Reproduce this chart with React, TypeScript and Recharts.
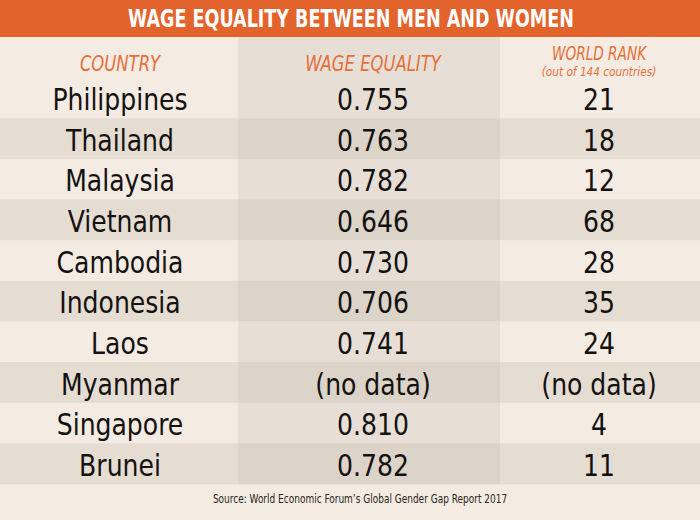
import React from 'react';
import { BarChart, Bar, XAxis, YAxis, Cell, LabelList } from 'recharts';

const countries = ['Philippines', 'Thailand', 'Malaysia', 'Vietnam', 'Cambodia', 'Indonesia', 'Laos', 'Myanmar', 'Singapore', 'Brunei'];
const wageEquality: (number | null)[] = [0.755, 0.763, 0.782, 0.646, 0.73, 0.706, 0.741, null, 0.81, 0.782];
const worldRank: (number | null)[] = [21, 18, 12, 68, 28, 35, 24, null, 4, 11];
const columnHeaders = ['COUNTRY', 'WAGE EQUALITY', 'WORLD RANK'];
const rankSubHeader = '(out of 144 countries)';
const titleText = 'WAGE EQUALITY BETWEEN MEN AND WOMEN';
const sourceText = 'Source: World Economic Forum\u2019s Global Gender Gap Report 2017';
const noDataText = '(no data)';

// layout (not data)
const W = 700;
const H = 520;
const COL_SPANS = [238, 262, 200];
const COL_DX = [1, 4, -1];
const FONT = '"Liberation Sans Narrow", "DejaVu Sans Condensed", sans-serif';
const ORANGE = '#E2632C';
const HEAD_ORANGE = '#E56F3A';
const PAPER = '#F4EBE2';

const rows = [
  { key: 'header', c1: COL_SPANS[0], c2: COL_SPANS[1], c3: COL_SPANS[2], t1: columnHeaders[0], t2: columnHeaders[1], t3: columnHeaders[2], idx: -1 },
  ...countries.map((c, i) => ({
    key: c,
    c1: COL_SPANS[0],
    c2: COL_SPANS[1],
    c3: COL_SPANS[2],
    t1: c,
    t2: wageEquality[i] == null ? noDataText : (wageEquality[i] as number).toFixed(3),
    t3: worldRank[i] == null ? noDataText : String(worldRank[i]),
    idx: i,
  })),
];

const fillFor = (idx: number, col: number) => {
  const dark = idx >= 0 && idx % 2 === 1;
  if (col === 1) return dark ? '#DCD3C9' : '#E7DFD6';
  return dark ? '#E5DCD2' : PAPER;
};

const Narrow = ({ x, y, sx, children, ...rest }: any) => (
  <text transform={`translate(${x},${y}) scale(${sx},1)`} x={0} y={0} textAnchor="middle" fontFamily={FONT} {...rest}>
    {children}
  </text>
);

const makeRenderer = (col: number) => (props: any) => {
  const vb = props.viewBox || props;
  const x = Number(vb.x);
  const y = Number(vb.y);
  const w = Number(vb.width);
  const h = Number(vb.height);
  const value = String(props.value);
  const cx = x + w / 2 + COL_DX[col];
  const cy = y + h / 2;
  if (columnHeaders.includes(value)) {
    if (value === columnHeaders[2]) {
      return (
        <g>
          <Narrow x={cx} y={cy + 2} sx={0.8} fill={HEAD_ORANGE} fontStyle="italic" fontSize={19}>
            {value}
          </Narrow>
          <Narrow x={cx} y={cy + 18} sx={0.9} fill={HEAD_ORANGE} fontStyle="italic" fontSize={13}>
            {rankSubHeader}
          </Narrow>
        </g>
      );
    }
    return (
      <Narrow x={cx} y={cy + 13} sx={0.87} fill={HEAD_ORANGE} fontStyle="italic" fontSize={21}>
        {value}
      </Narrow>
    );
  }
  return (
    <Narrow x={cx} y={cy + 12} sx={0.9} fill="#141210" fontSize={31}>
      {value}
    </Narrow>
  );
};

export default function App() {
  return (
    <div style={{ position: 'absolute', left: 0, top: 0, width: W, height: H, background: PAPER, overflow: 'hidden' }}>
      <BarChart
        width={W}
        height={H}
        data={rows}
        layout="vertical"
        margin={{ top: 37, right: 0, bottom: 36, left: 0 }}
        barCategoryGap={0}
      >
        <XAxis type="number" hide domain={[0, W]} />
        <YAxis type="category" dataKey="key" hide />
        {(['c1', 'c2', 'c3'] as const).map((k, col) => (
          <Bar key={k} dataKey={k} stackId="t" isAnimationActive={false}>
            {rows.map((r) => (
              <Cell key={r.key} fill={fillFor(r.idx, col)} />
            ))}
            <LabelList dataKey={`t${col + 1}`} content={makeRenderer(col)} />
          </Bar>
        ))}
      </BarChart>
      <svg width={W} height={H} style={{ position: 'absolute', left: 0, top: 0, pointerEvents: 'none' }}>
        <rect x={0} y={0} width={W} height={37} fill={ORANGE} />
        <Narrow x={351} y={27} sx={0.78} fill="#FFFFFF" fontWeight="bold" fontSize={25}>
          {titleText}
        </Narrow>
        <Narrow x={360} y={503} sx={0.8} fill="#2A2622" fontSize={12.5}>
          {sourceText}
        </Narrow>
      </svg>
    </div>
  );
}
